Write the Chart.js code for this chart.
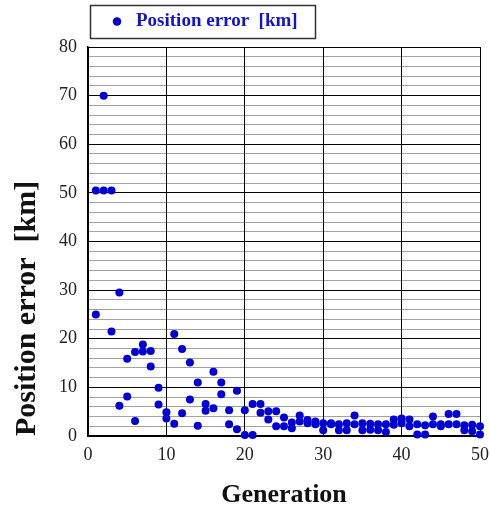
<!DOCTYPE html>
<html><head><meta charset="utf-8">
<script src="https://cdn.jsdelivr.net/npm/chart.js@4.4.1/dist/chart.umd.min.js"></script>
<style>html,body{margin:0;padding:0;background:#fff;}#wrap{width:490px;height:505px;}</style>
</head><body><div id="wrap"><canvas id="c" width="490" height="505"></canvas></div>
<script>
// ---- data ----
const generations = [1,2,3,4,5,6,7,8,9,10,11,12,13,14,15,16,17,18,19,20,21,22,23,24,25,26,27,28,29,30,31,32,33,34,35,36,37,38,39,40,41,42,43,44,45,46,47,48,49,50];
const errorUpper = [50.5,70,50.5,29.5,15.9,17.3,18.8,17.5,9.9,4.9,21.0,17.9,15.1,11.0,6.6,13.2,11.0,5.3,9.3,5.3,6.6,6.6,5.1,5.1,3.8,2.8,4.2,3.3,3.0,2.6,2.6,2.4,2.6,4.2,2.6,2.5,2.4,2.4,3.4,3.6,3.4,2.4,2.2,4.0,2.4,4.5,4.5,2.2,2.3,2.0];
const errorLower = [25.0,50.5,21.5,6.2,8.1,3.1,17.4,14.3,6.5,3.6,2.5,4.7,7.5,2.1,5.2,5.7,8.6,2.4,1.4,0.2,0.2,4.8,3.4,2.0,2.0,1.6,3.0,2.6,2.4,1.2,2.4,1.2,1.2,2.4,1.2,1.3,1.2,0.8,2.3,2.6,2.0,0.3,0.3,2.4,2.0,2.4,2.4,1.2,1.0,0.3];
const xTickLabels = [0,10,20,30,40,50];
const yTickLabels = [0,10,20,30,40,50,60,70,80];
const seriesLabel = 'Position error  [km]';
const xTitle = 'Generation';
const yTitle = 'Position error  [km]';

const points = [];
generations.forEach((g, i) => {
  points.push({x: g, y: errorUpper[i]});
  points.push({x: g, y: errorLower[i]});
});

const SERIF = "'Liberation Serif','Times New Roman',serif";
const BLUE = '#0000d4';
const LEG_PAD = 8, LEG_BOX = 19, LEG_FONT = 19;

// move the legend into its framed box and draw the frame
const legendFrame = {
  id: 'legendFrame',
  afterUpdate(chart) {
    const lg = chart.legend;
    if (!lg) return;
    const w = lg.width, h = lg.height;
    lg.left = 99.5; lg.top = 4; lg.right = lg.left + w; lg.bottom = lg.top + h;
  },
  afterDraw(chart) {
    const lg = chart.legend;
    if (!lg) return;
    const ctx = chart.ctx;
    ctx.save();
    ctx.font = Chart.helpers.toFont(lg.options.labels.font).string;
    const tw = ctx.measureText(seriesLabel).width;
    ctx.strokeStyle = '#333';
    ctx.lineWidth = 1.5;
    const x0 = Math.round(lg.left - 9.5) + 0.5, y0 = Math.round(lg.top + 1) + 0.5;
    const x1 = Math.round(lg.left + LEG_PAD + LEG_BOX + LEG_FONT / 2 + tw + 17) + 0.5;
    const y1 = Math.round(lg.top + 34) + 0.5;
    ctx.strokeRect(x0, y0, x1 - x0, y1 - y0);
    ctx.restore();
  }
};

new Chart(document.getElementById('c'), {
  type: 'scatter',
  data: {
    datasets: [{
      label: seriesLabel,
      data: points,
      backgroundColor: BLUE,
      borderColor: BLUE,
      pointRadius: 4,
      pointBorderWidth: 0,
      pointStyle: 'circle',
      clip: false
    }]
  },
  options: {
    responsive: false,
    animation: false,
    devicePixelRatio: 1,
    layout: { padding: { top: 10, right: 10, bottom: 0, left: 0 } },
    plugins: {
      tooltip: { enabled: false },
      legend: {
        display: true,
        position: 'top',
        align: 'start',
        fullSize: false,
        labels: {
          usePointStyle: true,
          boxWidth: LEG_BOX,
          boxHeight: 6,
          padding: LEG_PAD,
          color: '#1414c8',
          font: { family: SERIF, size: LEG_FONT, weight: 'bold' }
        }
      }
    },
    scales: {
      x: {
        type: 'linear',
        position: 'bottom',
        min: 0, max: 50,
        afterFit(s) { s.height = 69; s.paddingRight = 0; s.paddingLeft = 0; },
        ticks: {
          stepSize: 10,
          autoSkip: false,
          padding: 8,
          color: '#222',
          font: { family: SERIF, size: 18 },
          callback: v => xTickLabels.includes(v) ? String(v) : ''
        },
        grid: { color: '#000', lineWidth: 1, drawTicks: false },
        border: { display: true, color: '#000', width: 1.5 },
        title: {
          display: true,
          text: xTitle,
          color: '#111',
          font: { family: SERIF, size: 26, weight: 'bold', lineHeight: 0.75 },
          padding: { top: 0, bottom: 0 }
        }
      },
      y: {
        type: 'linear',
        position: 'left',
        min: 0, max: 80,
        afterFit(s) { s.width = 88; },
        ticks: {
          stepSize: 2,
          autoSkip: false,
          padding: 11,
          color: '#222',
          font: { family: SERIF, size: 18 },
          callback: v => yTickLabels.includes(v) ? String(v) : ''
        },
        grid: {
          color: c => (c.tick && c.tick.value % 10 === 0) ? '#000' : '#444',
          lineWidth: 1,
          drawTicks: false
        },
        border: {
          display: true, color: '#000', width: 1.5,
          dash: c => (c.tick && c.tick.value % 10 !== 0) ? [1, 1] : []
        },
        title: {
          display: true,
          text: yTitle,
          align: 'start',
          color: '#111',
          font: { family: SERIF, size: 30, weight: 'bold', lineHeight: 1 },
          padding: { top: 12, bottom: 0 }
        }
      }
    }
  },
  plugins: [legendFrame]
});
</script></body></html>
